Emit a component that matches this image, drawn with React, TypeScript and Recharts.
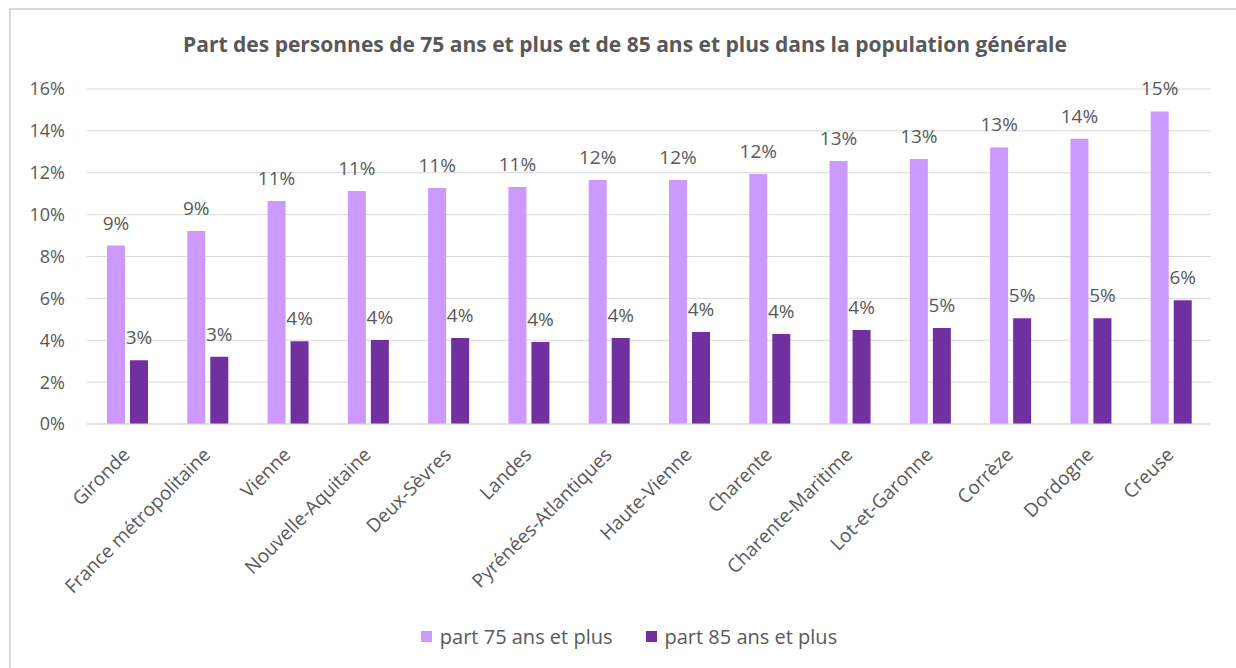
import React from "react";
import { BarChart, Bar, XAxis, YAxis, CartesianGrid, LabelList } from "recharts";

const categories = [
  "Gironde",
  "France métropolitaine",
  "Vienne",
  "Nouvelle-Aquitaine",
  "Deux-Sèvres",
  "Landes",
  "Pyrénées-Atlantiques",
  "Haute-Vienne",
  "Charente",
  "Charente-Maritime",
  "Lot-et-Garonne",
  "Corrèze",
  "Dordogne",
  "Creuse",
];
const part75 = [8.52, 9.22, 10.65, 11.13, 11.27, 11.32, 11.65, 11.65, 11.94, 12.56, 12.66, 13.21, 13.62, 14.93];
const part85 = [3.04, 3.21, 3.95, 4.01, 4.11, 3.92, 4.11, 4.39, 4.3, 4.49, 4.58, 5.05, 5.05, 5.91];
const yTicks = [0, 2, 4, 6, 8, 10, 12, 14, 16];
const seriesNames = ["part 75 ans et plus", "part 85 ans et plus"];
const seriesColors = ["#cc99ff", "#7030a0"];
const title = "Part des personnes de 75 ans et plus et de 85 ans et plus dans la population générale";

const data = categories.map((c, i) => ({ name: c, p75: part75[i], p85: part85[i] }));

const FONT = "'Open Sans', 'Noto Sans', sans-serif";
const TEXT = "#595959";

const XTick = (props: any) => {
  const { x, y, payload } = props;
  return (
    <text
      x={x + 4}
      y={y + 24}
      textAnchor="end"
      transform={`rotate(-45 ${x + 4} ${y + 24})`}
      fill={TEXT}
      fontSize={19}
      fontFamily={FONT}
    >
      {payload.value}
    </text>
  );
};

export default function App() {
  return (
    <div style={{ position: "absolute", left: 0, top: 0, width: 1236, height: 668, background: "#fff", overflow: "hidden" }}>
      <div
        style={{
          position: "absolute",
          left: 9,
          top: 8,
          width: 1260,
          height: 700,
          borderLeft: "2px solid #d9d9d9",
          borderTop: "2px solid #d9d9d9",
          boxSizing: "border-box",
        }}
      />
      <svg style={{ position: "absolute", left: 0, top: 0 }} width={1236} height={80}>
        <text
          x={625}
          y={52}
          textAnchor="middle"
          fill={TEXT}
          fontFamily={FONT}
          fontWeight="bold"
          fontSize={21}
        >
          {title}
        </text>
      </svg>
      <div style={{ position: "absolute", left: 0, top: 0 }}>
        <BarChart
          width={1236}
          height={668}
          data={data}
          margin={{ top: 89, right: 25, left: 0, bottom: 0 }}
          barSize={18}
          barGap={5}
        >
          <CartesianGrid vertical={false} stroke="#d9d9d9" strokeWidth={1} />
          <XAxis
            dataKey="name"
            interval={0}
            height={244}
            tickLine={false}
            axisLine={{ stroke: "#d9d9d9" }}
            tick={<XTick />}
          />
          <YAxis
            width={87}
            domain={[0, 16]}
            ticks={yTicks}
            interval={0}
            tickFormatter={(v: number) => `${v}%`}
            tickLine={false}
            axisLine={false}
            tickMargin={16}
            tick={{ fill: TEXT, fontSize: 18, fontFamily: FONT }}
          />
          <Bar dataKey="p75" name={seriesNames[0]} fill={seriesColors[0]} isAnimationActive={false}>
            <LabelList
              dataKey="p75"
              position="top"
              offset={16}
              formatter={(v: number) => `${Math.round(v)}%`}
              fill={TEXT}
              fontSize={19}
              fontFamily={FONT}
            />
          </Bar>
          <Bar dataKey="p85" name={seriesNames[1]} fill={seriesColors[1]} isAnimationActive={false}>
            <LabelList
              dataKey="p85"
              position="top"
              offset={16}
              formatter={(v: number) => `${Math.round(v)}%`}
              fill={TEXT}
              fontSize={19}
              fontFamily={FONT}
            />
          </Bar>
        </BarChart>
      </div>
      <div
        style={{
          position: "absolute",
          left: 0,
          top: 623,
          width: 1236,
          display: "flex",
          justifyContent: "center",
          gap: 33,
          fontFamily: FONT,
          fontSize: 20,
          color: TEXT,
          paddingLeft: 22,
          boxSizing: "border-box",
        }}
      >
        {seriesNames.map((n, i) => (
          <div key={n} style={{ display: "flex", alignItems: "center" }}>
            <span style={{ display: "inline-block", width: 11, height: 11, background: seriesColors[i], marginRight: 8 }} />
            <span>{n}</span>
          </div>
        ))}
      </div>
    </div>
  );
}
